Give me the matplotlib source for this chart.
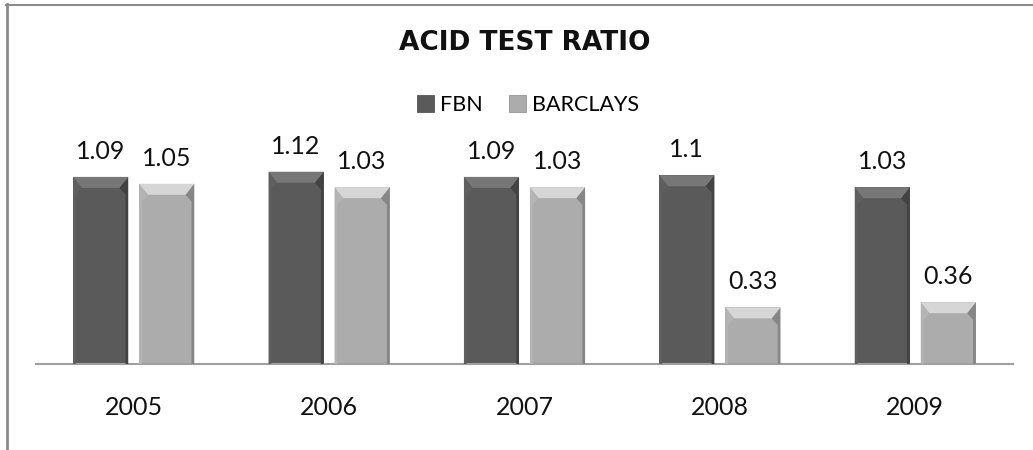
import numpy as np
import matplotlib.pyplot as plt
from matplotlib.patches import Polygon, Patch
from matplotlib.lines import Line2D

# Acid test ratio, FBN vs Barclays
years = ["2005", "2006", "2007", "2008", "2009"]
fbn = [1.09, 1.12, 1.09, 1.1, 1.03]
barclays = [1.05, 1.03, 1.03, 0.33, 0.36]
fbn_labels = ["1.09", "1.12", "1.09", "1.1", "1.03"]
barclays_labels = ["1.05", "1.03", "1.03", "0.33", "0.36"]

plt.rcParams['font.family'] = ['Lato', 'DejaVu Sans']

W, H = 1033, 450
fig = plt.figure(figsize=(W / 100, H / 100), dpi=100)
ax = fig.add_axes([36 / W, (H - 364) / H, (1013 - 36) / W, 206 / H])

x = np.arange(len(years))
bw = 0.282
gap = 0.056
styles = {
    "FBN": dict(body="#5a5a5a", top="#777777", left="#5f5f5f", right="#434343"),
    "BARCLAYS": dict(body="#acacac", top="#d6d6d6", left="#b4b4b4", right="#868686"),
}

def bevel_bars(xs, vals, st):
    bars = ax.bar(xs, vals, bw, color=st["body"], edgecolor="none", zorder=2)
    dy = 11 / 171.5
    for r in bars:
        x0, w, h = r.get_x(), r.get_width(), r.get_height()
        x1 = x0 + w
        sx = w * 0.05
        tx = w * 0.16
        top = [(x0, h), (x1, h), (x1 - tx, h - dy), (x0 + tx, h - dy)]
        left = [(x0, 0), (x0, h), (x0 + tx, h - dy), (x0 + sx, h - dy * 1.6), (x0 + sx, 0)]
        right = [(x1, 0), (x1, h), (x1 - tx, h - dy), (x1 - sx, h - dy * 1.6), (x1 - sx, 0)]
        ax.add_patch(Polygon(left, closed=True, color=st["left"], lw=0, zorder=3))
        ax.add_patch(Polygon(right, closed=True, color=st["right"], lw=0, zorder=3))
        ax.add_patch(Polygon(top, closed=True, color=st["top"], lw=0, zorder=4))
    return bars

b1 = bevel_bars(x - (bw + gap) / 2, fbn, styles["FBN"])
b2 = bevel_bars(x + (bw + gap) / 2, barclays, styles["BARCLAYS"])

for bars, labels in ((b1, fbn_labels), (b2, barclays_labels)):
    for r, lab in zip(bars, labels):
        ax.annotate(lab, (r.get_x() + r.get_width() / 2, r.get_height()),
                    xytext=(0, 13), textcoords="offset points",
                    ha="center", va="baseline", fontsize=18, color="#111111")

for xi, yr in zip(x, years):
    ax.annotate(yr, (xi, 0), xycoords=("data", "axes fraction"),
                xytext=(0, -31), textcoords="offset points",
                ha="center", va="center", fontsize=18, color="#111111")

ax.set_xlim(-0.5, len(years) - 0.5)
ax.set_ylim(0, 1.2)
ax.set_xticks([])
ax.set_yticks([])
for s in ("top", "right", "left"):
    ax.spines[s].set_visible(False)
ax.spines["bottom"].set_color("#a0a0a0")
ax.spines["bottom"].set_linewidth(1.5)
ax.patch.set_alpha(0)

fig.text(525 / W, 1 - 43 / H, "ACID TEST RATIO", ha="center", va="center",
         fontsize=19, fontweight="bold", family="DejaVu Sans", color="#111111")

handles = [Patch(facecolor=styles["FBN"]["body"], edgecolor="#444444", lw=0.5),
           Patch(facecolor=styles["BARCLAYS"]["body"], edgecolor="#888888", lw=0.5)]
fig.legend(handles, ["FBN", "BARCLAYS"], loc="center", bbox_to_anchor=(528 / W, 1 - 105 / H),
           ncol=2, frameon=False, fontsize=15.5, handlelength=0.8, handleheight=0.8,
           handletextpad=0.3, columnspacing=1.2)

# chart border (top and left only visible)
fig.add_artist(Line2D([6 / W, 1], [1 - 4.5 / H, 1 - 4.5 / H], color="#8c8c8c", lw=1.5))
fig.add_artist(Line2D([6.5 / W, 6.5 / W], [0, 1 - 4 / H], color="#8c8c8c", lw=2))

fig.savefig("out.png", dpi=100)
